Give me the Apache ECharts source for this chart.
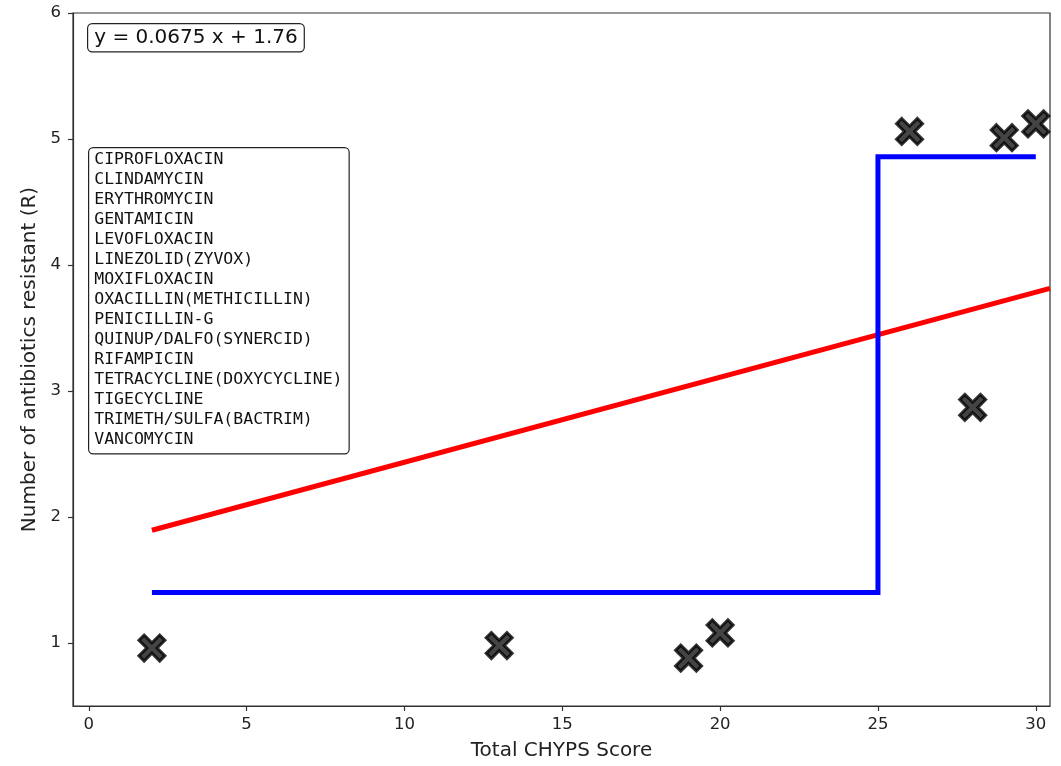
<!DOCTYPE html>
<html>
<head>
<meta charset="utf-8">
<script src="https://cdn.jsdelivr.net/npm/echarts@6/dist/echarts.min.js"></script>
<style>
    html, body { margin: 0; padding: 0; background: #fff; }
    #chart { width: 1061px; height: 766px; }
</style>
</head>
<body>
<div id="chart"></div>
<script>
// scatter points (jittered in the original plot)
const scoreX = [2, 13, 19, 20, 26, 28, 29, 30];
const resistY = [0.96, 0.98, 0.88, 1.08, 5.06, 2.87, 5.01, 5.12];

// step fit (blue)
const stepX = [2, 25, 25, 30];
const stepY = [1.4, 1.4, 4.86, 4.86];

// linear fit (red)
const fitX = [2, 30.45];
const fitY = [1.895, 3.815];

const xTicks = [0, 5, 10, 15, 20, 25, 30];
const yTicks = [1, 2, 3, 4, 5, 6];

const equationText = 'y = 0.0675 x + 1.76';
const drugs = [
    'CIPROFLOXACIN', 'CLINDAMYCIN', 'ERYTHROMYCIN', 'GENTAMICIN', 'LEVOFLOXACIN',
    'LINEZOLID(ZYVOX)', 'MOXIFLOXACIN', 'OXACILLIN(METHICILLIN)', 'PENICILLIN-G',
    'QUINUP/DALFO(SYNERCID)', 'RIFAMPICIN', 'TETRACYCLINE(DOXYCYCLINE)', 'TIGECYCLINE',
    'TRIMETH/SULFA(BACTRIM)', 'VANCOMYCIN',
];

const zip = (xs, ys) => xs.map((x, i) => [x, ys[i]]);

const xMarker = 'path://M2,0 L5,3 L8,0 L10,2 L7,5 L10,8 L8,10 L5,7 L2,10 L0,8 L3,5 L0,2 Z';

const axisLine = {show: true, onZero: false, lineStyle: {color: '#333', width: 1.2}};

const chart = echarts.init(document.getElementById('chart'));
chart.setOption({
    animation: false,
    textStyle: {fontFamily: 'DejaVu Sans'},
    grid: {
        left: 73,
        right: 11,
        top: 13,
        bottom: 59,
        show: true,
        borderColor: '#333',
        borderWidth: 1.2,
    },
    xAxis: {
        type: 'value',
        min: -0.5,
        max: 30.45,
        name: 'Total CHYPS Score',
        nameLocation: 'middle',
        nameGap: 35,
        nameTextStyle: {fontSize: 20, color: '#222'},
        axisLine: axisLine,
        splitLine: {show: false},
        axisTick: {show: true, customValues: xTicks, length: 5, lineStyle: {color: '#333', width: 1.2}},
        axisLabel: {customValues: xTicks, fontSize: 16.5, color: '#222', margin: 10},
    },
    yAxis: {
        type: 'value',
        min: 0.5,
        max: 6,
        name: 'Number of antibiotics resistant (R)',
        nameLocation: 'middle',
        nameGap: 33,
        nameTextStyle: {fontSize: 20, color: '#222'},
        axisLine: axisLine,
        splitLine: {show: false},
        axisTick: {show: true, customValues: yTicks, length: 5, lineStyle: {color: '#333', width: 1.2}},
        axisLabel: {customValues: yTicks, fontSize: 16.5, color: '#222', margin: 12},
    },
    series: [
        {
            type: 'line',
            data: zip(fitX, fitY),
            symbol: 'none',
            lineStyle: {color: '#ff0000', width: 5},
            z: 2,
        },
        {
            type: 'line',
            data: zip(stepX, stepY),
            symbol: 'none',
            lineStyle: {color: '#0000ff', width: 5, join: 'miter'},
            z: 3,
        },
        {
            type: 'scatter',
            data: zip(scoreX, resistY),
            symbol: xMarker,
            symbolSize: 26,
            itemStyle: {color: '#151515', borderColor: '#000', borderWidth: 3},
            z: 4,
        },
    ],
    graphic: [
        {
            type: 'text',
            left: 87,
            top: 23,
            z: 10,
            style: {
                text: equationText,
                fontFamily: 'DejaVu Sans',
                fontSize: 20,
                lineHeight: 23,
                fill: '#111',
                backgroundColor: '#fff',
                borderColor: '#222',
                borderWidth: 1.2,
                borderRadius: 4,
                padding: [2, 6, 2, 6],
            },
        },
        {
            type: 'text',
            left: 88,
            top: 147,
            z: 10,
            style: {
                text: drugs.join('\n'),
                fontFamily: 'DejaVu Sans Mono',
                fontSize: 16.5,
                lineHeight: 20,
                fill: '#111',
                backgroundColor: '#fff',
                borderColor: '#222',
                borderWidth: 1.2,
                borderRadius: 4,
                padding: [2, 6, 3, 5],
            },
        },
    ],
});
</script>
</body>
</html>
